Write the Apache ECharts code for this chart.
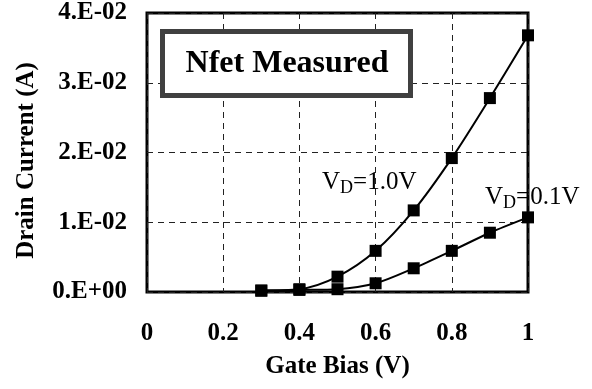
<!DOCTYPE html>
<html>
<head>
<meta charset="utf-8">
<script src="https://cdn.jsdelivr.net/npm/echarts@6/dist/echarts.min.js"></script>
<style>html,body{margin:0;padding:0;background:#fff}#c{width:592px;height:389px}</style>
</head>
<body>
<div id="c"></div>
<script>
var gateBias = [0.3, 0.4, 0.5, 0.6, 0.7, 0.8, 0.9, 1.0];
var currentVd10 = [0.0002, 0.0004, 0.0022, 0.0059, 0.0117, 0.0192, 0.0278, 0.0368];
var currentVd01 = [0.0002, 0.0003, 0.0004, 0.00125, 0.0034, 0.0059, 0.0085, 0.0107];
var yTickLabels = ['0.E+00', '1.E-02', '2.E-02', '3.E-02', '4.E-02'];
var xTickLabels = ['0', '0.2', '0.4', '0.6', '0.8', '1'];

var FONT = "'Liberation Serif', 'Times New Roman', serif";
function pairs(xs, ys) { return xs.map(function (x, i) { return [x, ys[i]]; }); }

var chart = echarts.init(document.getElementById('c'), null, { renderer: 'canvas' });
var gridStyle = { show: true, lineStyle: { color: '#222', width: 1, type: [6, 5] } };
chart.setOption({
  animation: false,
  backgroundColor: '#fff',
  grid: { left: 147, right: 64, top: 13, bottom: 97, show: true, borderColor: '#000', borderWidth: 3, backgroundColor: 'transparent' },
  xAxis: {
    type: 'value', min: 0, max: 1, interval: 0.2,
    name: 'Gate Bias (V)', nameLocation: 'middle', nameGap: 62,
    nameTextStyle: { fontFamily: FONT, fontWeight: 'bold', fontSize: 25, color: '#000' },
    axisLine: { show: false }, axisTick: { show: false },
    splitLine: gridStyle,
    axisLabel: { margin: 29, fontFamily: FONT, fontWeight: 'bold', fontSize: 25, color: '#000',
      formatter: function (v) { return xTickLabels[Math.round(v / 0.2)]; } }
  },
  yAxis: {
    type: 'value', min: 0, max: 0.04, interval: 0.01,
    name: 'Drain Current (A)', nameLocation: 'middle', nameGap: 108,
    nameTextStyle: { fontFamily: FONT, fontWeight: 'bold', fontSize: 25, color: '#000', padding: [0, 16, 0, 0] },
    axisLine: { show: false }, axisTick: { show: false },
    splitLine: gridStyle,
    axisLabel: { margin: 20, fontFamily: FONT, fontWeight: 'bold', fontSize: 25, color: '#000',
      formatter: function (v) { return yTickLabels[Math.round(v / 0.01)]; } }
  },
  series: [
    { type: 'line', data: pairs(gateBias, currentVd10), smooth: 0.3, symbol: 'rect', symbolSize: 12,
      lineStyle: { color: '#000', width: 2 }, itemStyle: { color: '#000' }, z: 3 },
    { type: 'line', data: pairs(gateBias, currentVd01), smooth: 0.3, symbol: 'rect', symbolSize: 12,
      lineStyle: { color: '#000', width: 2 }, itemStyle: { color: '#000' }, z: 3 }
  ],
  graphic: [
    { type: 'rect', z: 10, shape: { x: 162.5, y: 31.5, width: 248, height: 64 },
      style: { fill: '#fff', stroke: '#404040', lineWidth: 5 } },
    { type: 'text', z: 11, style: { x: 287, y: 64, text: 'Nfet Measured', align: 'center', verticalAlign: 'middle',
      font: 'bold 32px ' + FONT, fill: '#000' } },
    { type: 'text', z: 11, style: { x: 322, y: 182, align: 'left', verticalAlign: 'middle',
      text: '{b|V}{s|D}{b|=1.0V}',
      rich: { b: { fontFamily: FONT, fontSize: 25, lineHeight: 30, fill: '#000' },
              s: { fontFamily: FONT, fontSize: 18, lineHeight: 16, verticalAlign: 'bottom', fill: '#000' } } } },
    { type: 'text', z: 11, style: { x: 485, y: 197, align: 'left', verticalAlign: 'middle',
      text: '{b|V}{s|D}{b|=0.1V}',
      rich: { b: { fontFamily: FONT, fontSize: 25, lineHeight: 30, fill: '#000' },
              s: { fontFamily: FONT, fontSize: 18, lineHeight: 16, verticalAlign: 'bottom', fill: '#000' } } } }
  ]
});
</script>
</body>
</html>
